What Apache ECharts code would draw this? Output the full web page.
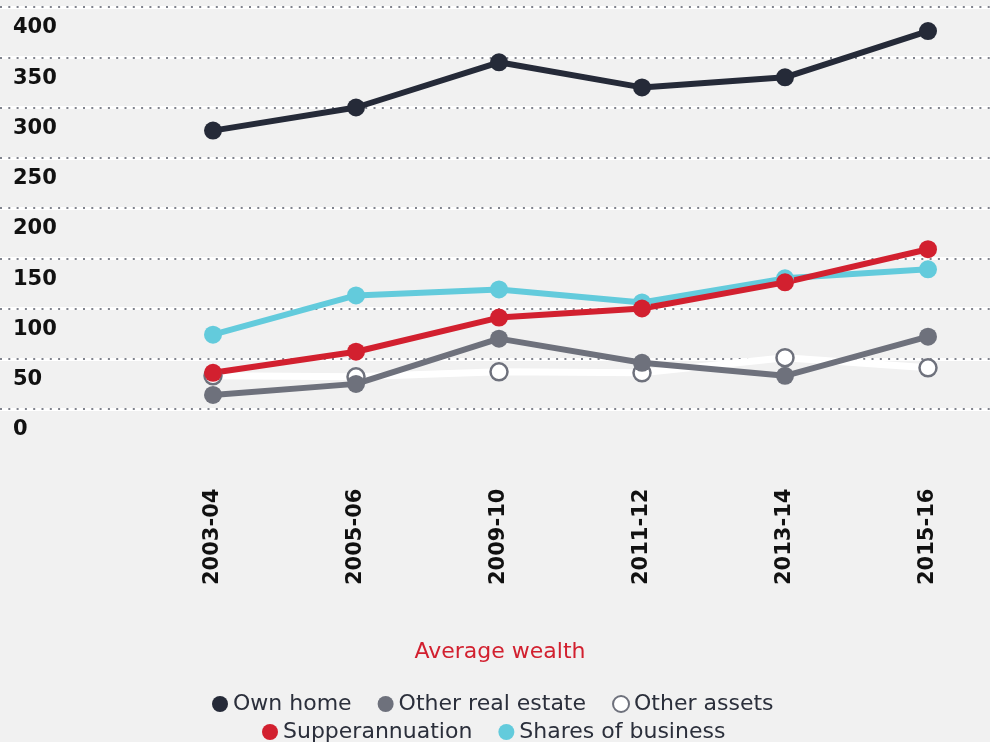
<!DOCTYPE html>
<html>
	<head>
		<meta charset="utf-8" />
		<title>Average wealth</title>
		<script type="text/javascript" src="https://cdn.jsdelivr.net/npm/echarts@6/dist/echarts.min.js"></script>
	</head>
	<body style="margin:0;background:#f1f1f1;">
		<div id="main" style="width:990px;height:742px;"></div>
	</body>
	<script>
	// data
	var years = ['2003-04', '2005-06', '2009-10', '2011-12', '2013-14', '2015-16'];
	var ownHome = [277, 300, 345, 320, 330, 376];
	var otherRealEstate = [14, 25, 70, 46, 33, 72];
	var otherAssets = [33, 32, 37, 36, 51, 41];
	var superannuation = [36, 57, 91, 100, 126, 159];
	var sharesBusiness = [74, 113, 119, 106, 130, 139];
	var yTicks = { min: 0, max: 400, step: 50 };

	var dark = '#252a38', grey = '#6e717c', red = '#d2202f', cyan = '#63cbdc';

	var dom = document.getElementById('main');
	var myChart = echarts.init(dom, null, { renderer: 'canvas' });

	function line(name, data, color, width) {
		return {
			name: name,
			type: 'line',
			xAxisIndex: 1,
			yAxisIndex: 2,
			data: data,
			symbol: 'circle',
			symbolSize: 18,
			lineStyle: { color: color, width: width },
			itemStyle: { color: color },
			emphasis: { disabled: true },
			animation: false
		};
	}

	var legendText = { color: '#2b2f3b', fontSize: 22, fontFamily: 'DejaVu Sans' };

	var option = {
		backgroundColor: '#f1f1f1',
		title: {
			text: 'Average wealth',
			left: 495,
			top: 636,
			textAlign: 'center',
			textStyle: { color: red, fontSize: 22, fontWeight: 'normal', fontFamily: 'DejaVu Sans' }
		},
		legend: [
			{
				data: ['Own home', 'Other real estate', 'Other assets'],
				left: 207, top: 688,
				icon: 'circle', itemWidth: 16, itemHeight: 16, itemGap: 26,
				textStyle: legendText
			},
			{
				data: ['Supperannuation', 'Shares of business'],
				left: 257, top: 716,
				icon: 'circle', itemWidth: 16, itemHeight: 16, itemGap: 26,
				textStyle: legendText
			}
		],
		grid: [
			{ left: 0, right: 0, top: 7, bottom: 333 },
			{ left: 213, right: 62, top: 7, bottom: 333 }
		],
		xAxis: [
			{ gridIndex: 0, type: 'value', min: 0, max: 1, show: false },
			{
				gridIndex: 1,
				type: 'category',
				data: years,
				boundaryGap: false,
				axisLine: { show: false },
				axisTick: { show: false },
				axisLabel: {
					rotate: 90,
					align: 'left',
					margin: 176,
					color: '#111',
					fontSize: 21,
					fontWeight: 'bold',
					fontFamily: 'DejaVu Sans'
				}
			}
		],
		yAxis: [
			{
				gridIndex: 0,
				type: 'value',
				min: yTicks.min, max: yTicks.max, interval: yTicks.step,
				axisLine: { show: false },
				axisTick: { show: false },
				axisLabel: {
					inside: true,
					margin: 13,
					align: 'left',
					verticalAlign: 'top',
					lineHeight: 42,
					color: '#111',
					fontSize: 21,
					fontWeight: 'bold',
					fontFamily: 'DejaVu Sans'
				},
				splitLine: { show: true, lineStyle: { color: '#ffffff', width: 3, type: 'solid' } }
			},
			{
				gridIndex: 0,
				type: 'value',
				min: yTicks.min, max: yTicks.max, interval: yTicks.step,
				axisLine: { show: false },
				axisTick: { show: false },
				axisLabel: { show: false },
				splitLine: { show: true, lineStyle: { color: '#80838d', width: 2, type: [2, 6.3] } }
			},
			{
				gridIndex: 1,
				type: 'value',
				min: yTicks.min, max: yTicks.max, interval: yTicks.step,
				show: false,
				splitLine: { show: false }
			}
		],
		series: [
			{
				name: 'Other assets',
				type: 'line',
				xAxisIndex: 1,
				yAxisIndex: 2,
				data: otherAssets,
				symbol: 'circle',
				symbolSize: 17,
				lineStyle: { color: '#ffffff', width: 7 },
				itemStyle: { color: '#ffffff', borderColor: grey, borderWidth: 2.5 },
				emphasis: { disabled: true },
				animation: false
			},
			line('Other real estate', otherRealEstate, grey, 6),
			line('Shares of business', sharesBusiness, cyan, 6),
			line('Supperannuation', superannuation, red, 6),
			line('Own home', ownHome, dark, 6)
		]
	};
	myChart.setOption(option);
	window.addEventListener('resize', myChart.resize);
	</script>
</html>
